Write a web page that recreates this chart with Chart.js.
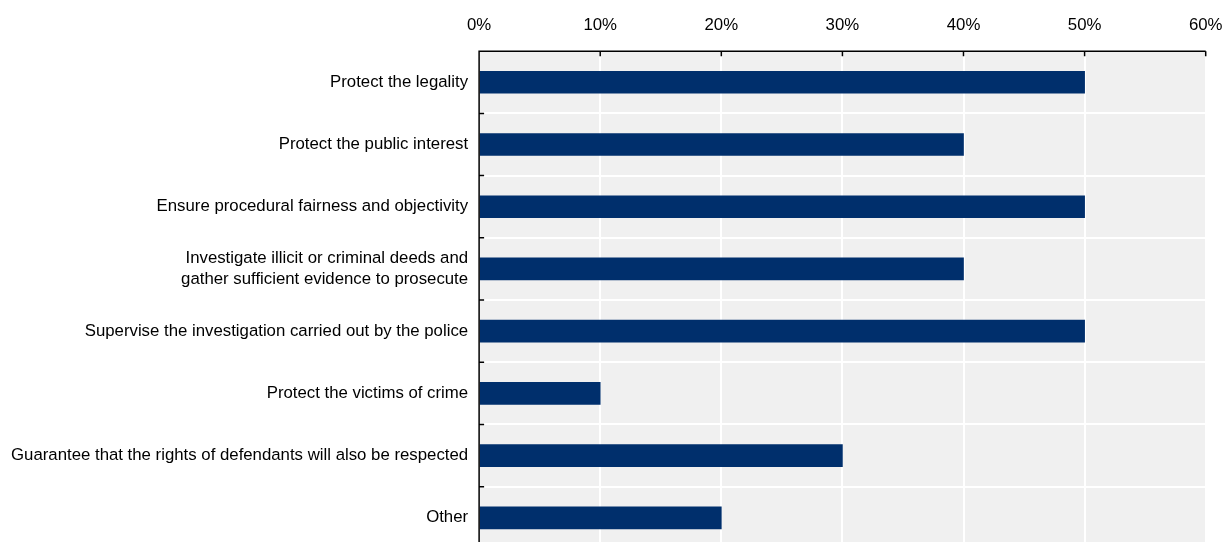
<!DOCTYPE html>
<html>
<head>
<meta charset="utf-8">
<script src="https://cdn.jsdelivr.net/npm/chart.js@4/dist/chart.umd.min.js"></script>
<style>
  html, body { margin: 0; padding: 0; background: #fff; overflow: hidden; }
</style>
</head>
<body>
<canvas id="chart" width="1238" height="570"></canvas>
<script>
// categories, top to bottom
const categories = [
    'Protect the legality',
    'Protect the public interest',
    'Ensure procedural fairness and objectivity',
    ['Investigate illicit or criminal deeds and', 'gather sufficient evidence to prosecute'],
    'Supervise the investigation carried out by the police',
    'Protect the victims of crime',
    'Guarantee that the rights of defendants will also be respected',
    'Other'
];
const shares = [50, 40, 50, 40, 50, 10, 30, 20];
const tickValues = [0, 10, 20, 30, 40, 50, 60];

// grey plot background
const plotBackground = {
    id: 'plotBackground',
    beforeDraw(chart) {
        const { ctx, chartArea: a } = chart;
        ctx.save();
        ctx.fillStyle = '#f0f0f0';
        ctx.fillRect(a.left, a.top, a.right - a.left, a.bottom - a.top);
        ctx.restore();
    }
};

// black axis lines with small inward ticks
const axisLines = {
    id: 'axisLines',
    afterDatasetsDraw(chart) {
        const { ctx, chartArea: a, scales } = chart;
        const x = scales.x, y = scales.y;
        ctx.save();
        ctx.strokeStyle = '#000';
        ctx.lineWidth = 1.5;
        ctx.beginPath();
        ctx.moveTo(a.left, a.bottom);
        ctx.lineTo(a.left, a.top);
        ctx.lineTo(a.right, a.top);
        tickValues.forEach(v => {
            const px = x.getPixelForValue(v);
            ctx.moveTo(px, a.top);
            ctx.lineTo(px, a.top + 5);
        });
        const step = y.getPixelForValue(1) - y.getPixelForValue(0);
        for (let i = 0; i < categories.length; i++) {
            const py = y.getPixelForValue(i) + step / 2;
            ctx.moveTo(a.left, py);
            ctx.lineTo(a.left + 5, py);
        }
        ctx.stroke();
        ctx.restore();
    }
};

const font = { family: "'Liberation Sans', Arial, sans-serif", size: 16.8 };

new Chart(document.getElementById('chart'), {
    type: 'bar',
    data: {
        labels: categories,
        datasets: [{
            data: shares,
            backgroundColor: '#002f6c',
            barThickness: 22
        }]
    },
    options: {
        indexAxis: 'y',
        responsive: false,
        devicePixelRatio: 1,
        animation: false,
        layout: { padding: { left: 0, right: 7, top: 0, bottom: 2 } },
        plugins: {
            legend: { display: false },
            tooltip: { enabled: false }
        },
        scales: {
            x: {
                position: 'top',
                min: 0,
                max: 60,
                border: { display: false },
                grid: { color: '#ffffff', lineWidth: 2, drawTicks: false },
                ticks: {
                    stepSize: 10,
                    padding: 15.5,
                    color: '#000',
                    font: font,
                    callback: v => v + '%'
                }
            },
            y: {
                border: { display: false },
                grid: { color: '#ffffff', lineWidth: 2, drawTicks: false },
                ticks: { padding: 11, color: '#000', font: font }
            }
        }
    },
    plugins: [plotBackground, axisLines]
});
</script>
</body>
</html>
